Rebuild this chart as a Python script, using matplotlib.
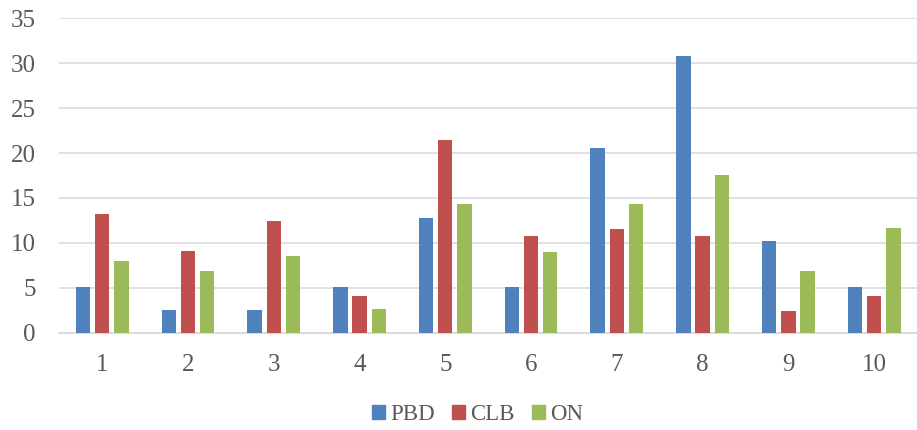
import numpy as np
import matplotlib.pyplot as plt
from matplotlib.patches import Patch
plt.switch_backend('agg')

plt.rcParams['font.family'] = ['Liberation Serif', 'DejaVu Serif']

categories = ['1', '2', '3', '4', '5', '6', '7', '8', '9', '10']
series = ['PBD', 'CLB', 'ON']
pbd = [5.13, 2.56, 2.56, 5.13, 12.82, 5.13, 20.51, 30.77, 10.26, 5.13]
clb = [13.17, 9.09, 12.39, 4.12, 21.45, 10.72, 11.54, 10.72, 2.41, 4.12]
on = [7.94, 6.86, 8.50, 2.63, 14.32, 9.02, 14.32, 17.55, 6.86, 11.65]
colors = ['#4F81BD', '#C0504D', '#9BBB59']
text_color = '#595959'

fig = plt.figure(figsize=(9.17, 4.30), dpi=100)
ax = fig.add_axes([0.0647, 0.2263, 0.9353, 0.7311])

x = np.arange(len(categories))
pitch = 0.224
width = 0.168
for i, (vals, c) in enumerate(zip([pbd, clb, on], colors)):
    ax.bar(x + (i - 1) * pitch, vals, width=width, color=c, zorder=3)

ax.set_xlim(-0.5, len(categories) - 0.5)
ax.set_ylim(0, 35)
ax.set_yticks(range(0, 36, 5))
ax.set_xticks(x)
ax.set_xticklabels(categories)
ax.yaxis.grid(True, color='#d9d9d9', linewidth=1.1, zorder=0)
ax.set_axisbelow(True)
for s in ['top', 'right', 'left']:
    ax.spines[s].set_visible(False)
ax.spines['bottom'].set_color('#d9d9d9')
ax.spines['bottom'].set_linewidth(1.3)
ax.tick_params(axis='both', length=0, labelsize=18, colors=text_color)
ax.tick_params(axis='x', pad=15.5)
ax.tick_params(axis='y', pad=17)

handles = [Patch(color=c, label=s) for s, c in zip(series, colors)]
fig.legend(handles=handles, loc='center', bbox_to_anchor=(477.5 / 917, 1 - 415 / 430),
           ncol=3, frameon=False, fontsize=16.5, labelcolor=text_color,
           handlelength=0.57, handleheight=0.55, handletextpad=0.22,
           columnspacing=0.75)

fig.savefig('out.png', dpi=100)
